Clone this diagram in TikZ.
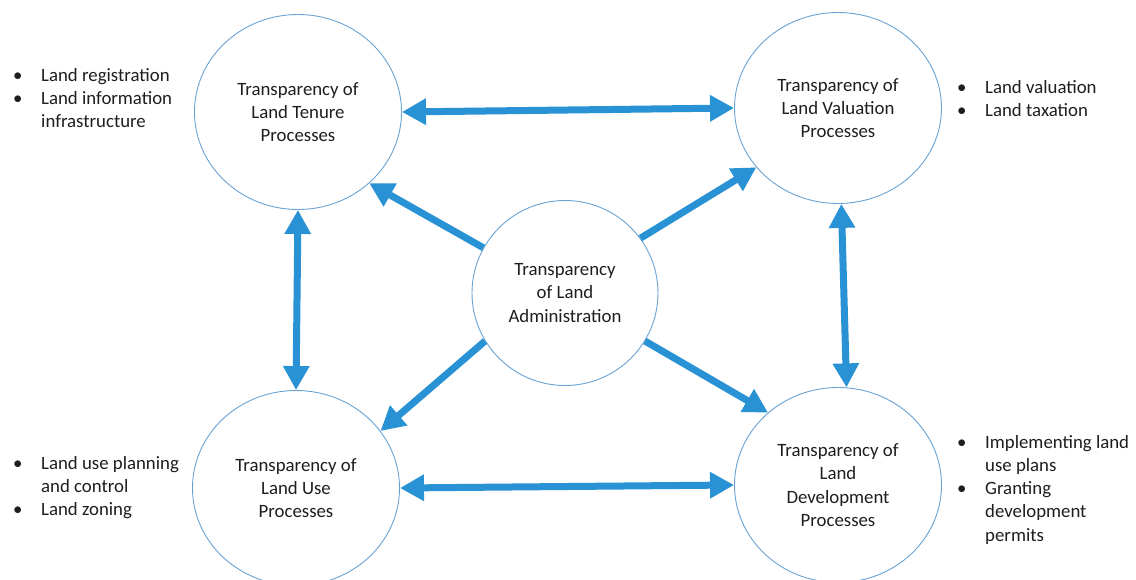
\documentclass[tikz,border=0pt]{standalone}
\usepackage{fontspec}
\setmainfont{Carlito}
\usetikzlibrary{arrows.meta,shapes.geometric}
\definecolor{arrowblue}{RGB}{40,146,212}
\definecolor{ringblue}{RGB}{105,163,212}
\definecolor{txt}{RGB}{30,30,30}
\newcommand{\bodyfont}{\fontsize{18.8}{23.3}\selectfont}
\begin{document}
\begin{tikzpicture}[x=1pt,y=-1pt,
  ring/.style={ellipse,draw=ringblue,line width=0.9pt,fill=white,inner sep=0pt,
    minimum width=207pt,minimum height=195pt,align=center,text=txt,font=\bodyfont},
  hub/.style={ring,minimum width=186pt,minimum height=185pt},
  link/.style={draw=arrowblue,line width=7pt,
    arrows={-Triangle[length=24pt,width=25pt]}},
  twolink/.style={draw=arrowblue,line width=7pt,
    arrows={Triangle[length=24pt,width=25pt]-Triangle[length=24pt,width=25pt]}},
  bullets/.style={anchor=base west,inner sep=0pt,text=txt,font=\bodyfont}]
\useasboundingbox (0,0) rectangle (1136,579);
\fill[white] (0,0) rectangle (1136,579);

\node[ring] (tl) at (298,112) {Transparency of\\Land Tenure\\Processes};
\node[ring,minimum height=191pt] (tr) at (838,108) {Transparency of\\Land Valuation\\Processes};
\node[ring] (bl) at (296,488) {Transparency of\\Land Use\\Processes};
\node[ring] (br) at (838,485) {Transparency of\\Land\\Development\\Processes};
\node[hub] (c) at (565,293) {Transparency\\of Land\\Administration};

\path[twolink] (tl.east) -- (tr.west);
\path[twolink] (bl.east) -- (br.west);
\path[twolink] (tl.south) -- (bl.north);
\path[twolink] (tr.-88) -- (br.85);
\path[link] (c.151) -- (tl.-45);
\path[link] (c.36) -- (tr.-144);
\path[link] (c.-149) -- (bl.34);
\path[link] (c.-31) -- (br.134);

\node[bullets] (ltl) at (13,81) {\begin{tabular}[t]{@{}p{28pt}@{}l@{}}
\textbullet & Land registration\\
\textbullet & Land information\\
 & infrastructure
\end{tabular}};
\node[bullets] (ltr) at (957,93) {\begin{tabular}[t]{@{}p{28pt}@{}l@{}}
\textbullet & Land valuation\\
\textbullet & Land taxation
\end{tabular}};
\node[bullets] (lbl) at (13,469) {\begin{tabular}[t]{@{}p{28pt}@{}l@{}}
\textbullet & Land use planning\\
 & and control\\
\textbullet & Land zoning
\end{tabular}};
\node[bullets] (lbr) at (957,448) {\begin{tabular}[t]{@{}p{28pt}@{}l@{}}
\textbullet & Implementing land\\
 & use plans\\
\textbullet & Granting\\
 & development\\
 & permits
\end{tabular}};
\end{tikzpicture}
\end{document}
